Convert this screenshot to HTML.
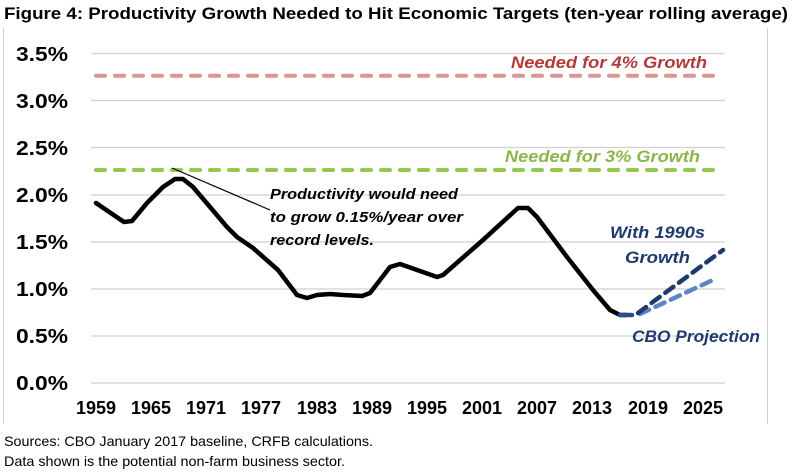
<!DOCTYPE html>
<html><head><meta charset="utf-8"><style>
html,body{margin:0;padding:0;background:#fff;}
svg{display:block;font-family:"Liberation Sans",Arial,sans-serif;}
</style></head><body>
<svg width="800" height="476" viewBox="0 0 800 476" xmlns="http://www.w3.org/2000/svg">
<text x="4" y="19" font-size="16.5" font-weight="bold" fill="#000" textLength="784" lengthAdjust="spacingAndGlyphs">Figure 4: Productivity Growth Needed to Hit Economic Targets (ten-year rolling average)</text>
<line x1="3.5" y1="28" x2="3.5" y2="424" stroke="#d0d0d0"/>
<line x1="767.5" y1="28" x2="767.5" y2="424" stroke="#d0d0d0"/>
<g stroke="#d0d0d0" stroke-width="1.3">
<line x1="91" y1="53.5" x2="725" y2="53.5"/><line x1="91" y1="100.5" x2="725" y2="100.5"/>
<line x1="91" y1="147.5" x2="725" y2="147.5"/><line x1="91" y1="195" x2="725" y2="195"/>
<line x1="91" y1="242" x2="725" y2="242"/><line x1="91" y1="289" x2="725" y2="289"/>
<line x1="91" y1="336" x2="725" y2="336"/><line x1="91" y1="383" x2="725" y2="383"/>
</g>
<g font-size="20" font-weight="bold" text-anchor="end" fill="#000">
<text x="68" y="61" textLength="52" lengthAdjust="spacingAndGlyphs">3.5%</text><text x="68" y="108" textLength="52" lengthAdjust="spacingAndGlyphs">3.0%</text><text x="68" y="155" textLength="52" lengthAdjust="spacingAndGlyphs">2.5%</text>
<text x="68" y="202" textLength="52" lengthAdjust="spacingAndGlyphs">2.0%</text><text x="68" y="249" textLength="52" lengthAdjust="spacingAndGlyphs">1.5%</text><text x="68" y="296" textLength="52" lengthAdjust="spacingAndGlyphs">1.0%</text>
<text x="68" y="343" textLength="52" lengthAdjust="spacingAndGlyphs">0.5%</text><text x="68" y="390" textLength="52" lengthAdjust="spacingAndGlyphs">0.0%</text>
</g>
<g font-size="18" font-weight="bold" text-anchor="middle" fill="#000">
<text x="96" y="414">1959</text><text x="151" y="414">1965</text><text x="206" y="414">1971</text>
<text x="261" y="414">1977</text><text x="317" y="414">1983</text><text x="372" y="414">1989</text>
<text x="427" y="414">1995</text><text x="482" y="414">2001</text><text x="537" y="414">2007</text>
<text x="592" y="414">2013</text><text x="648" y="414">2019</text><text x="703" y="414">2025</text>
</g>
<line x1="96" y1="75.7" x2="722" y2="75.7" stroke="#d99694" stroke-width="4" stroke-dasharray="9,10" stroke-linecap="round"/>
<line x1="96" y1="170" x2="722" y2="170" stroke="#92c94e" stroke-width="4" stroke-dasharray="9,10" stroke-linecap="round"/>
<line x1="172" y1="168" x2="270" y2="210" stroke="#000" stroke-width="1.2"/>
<polyline fill="none" stroke="#000" stroke-width="4.5" stroke-linejoin="round" stroke-linecap="round" points="96,203 124,222 132,221 147,203 163,187 175,179 183,179 193,187 210,207 227,227 237,237 253,248 278,270 297,295 307,298 317,295 330,294 343,295 362,296 370,293 390,267 400,264 437,277 443,275 483,240 518,208 528,208 537,217 567,257 593,290 610,310 620,315 626,315"/>
<line x1="620" y1="315" x2="632" y2="315" stroke="#2b4c8a" stroke-width="4.5" stroke-linecap="round"/>
<line x1="640" y1="314" x2="715" y2="279" stroke="#5b85c7" stroke-width="4.5" stroke-dasharray="10,7" stroke-linecap="round"/>
<line x1="638" y1="313" x2="723" y2="250" stroke="#1f3a6e" stroke-width="4.5" stroke-dasharray="10,7" stroke-linecap="round"/>
<g font-size="17" font-weight="bold" font-style="italic">
<text x="511" y="68" fill="#b33a3a" textLength="196" lengthAdjust="spacingAndGlyphs">Needed for 4% Growth</text>
<text x="505" y="162" fill="#8db548" textLength="195" lengthAdjust="spacingAndGlyphs">Needed for 3% Growth</text>
<text x="610" y="238" fill="#1f3a6e" textLength="95" lengthAdjust="spacingAndGlyphs">With 1990s</text>
<text x="625" y="263" fill="#1f3a6e" textLength="65" lengthAdjust="spacingAndGlyphs">Growth</text>
<text x="632" y="342" fill="#1f3a6e" textLength="128" lengthAdjust="spacingAndGlyphs">CBO Projection</text>
</g>
<g font-size="15" font-weight="bold" font-style="italic" fill="#000">
<text x="270" y="199" textLength="188" lengthAdjust="spacingAndGlyphs">Productivity would need</text>
<text x="270" y="222" textLength="193" lengthAdjust="spacingAndGlyphs">to grow 0.15%/year over</text>
<text x="270" y="245" textLength="104" lengthAdjust="spacingAndGlyphs">record levels.</text>
</g>
<text x="4" y="446" font-size="14" fill="#000" textLength="369" lengthAdjust="spacingAndGlyphs">Sources: CBO January 2017 baseline, CRFB calculations.</text>
<text x="4" y="466" font-size="14" fill="#000" textLength="341" lengthAdjust="spacingAndGlyphs">Data shown is the potential non-farm business sector.</text>
</svg>
</body></html>
